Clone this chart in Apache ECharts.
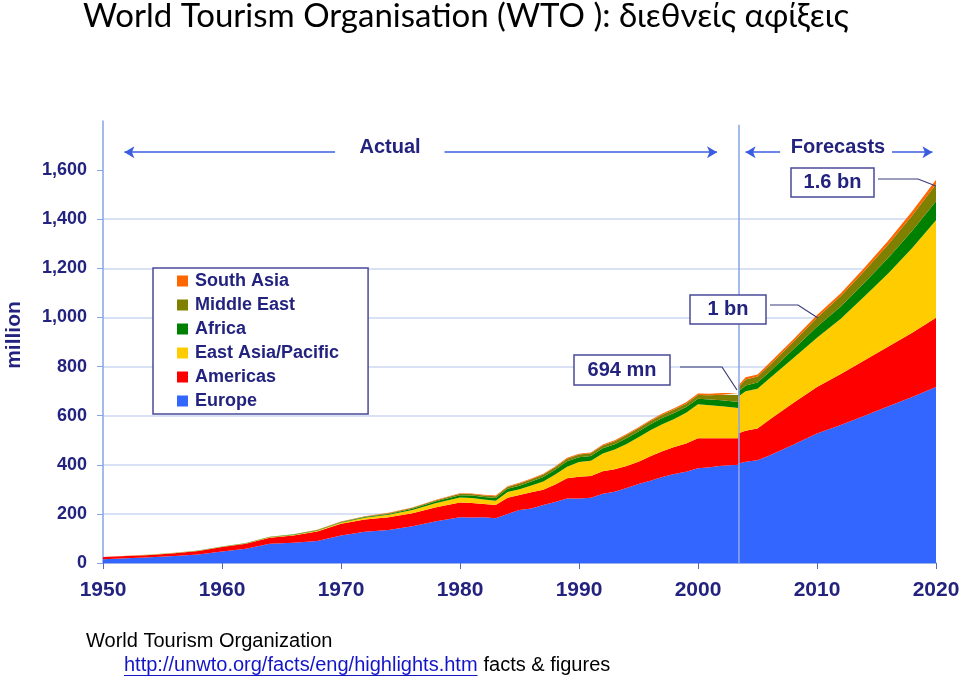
<!DOCTYPE html>
<html>
<head>
<meta charset="utf-8">
<script src="https://cdn.jsdelivr.net/npm/echarts@6/dist/echarts.min.js"></script>
<style>
  html, body { margin: 0; padding: 0; background: #fff; }
  #chart { width: 960px; height: 683px; }
</style>
</head>
<body>
<div id="chart"></div>
<script>
// actual arrivals (million)
const yearsActual = [1950,1952,1954,1956,1958,1960,1962,1964,1966,1968,1970,1972,1974,1976,1978,1980,1981,1982,1983,1984,1985,1986,1987,1988,1989,1990,1991,1992,1993,1994,1995,1996,1997,1998,1999,2000,2001,2002,2003.4];
const europeActual = [15,19,23,29,35,47,58,78,82,90,112,127,134,150,170,186,185,186,182,200,216,222,236,248,263,263,266,282,290,305,322,335,350,362,372,386,390,396,400];
const americasActual = [9,9,10,11,14,18,20,25,30,38,48,50,52,53,57,60,59,54,54,66,61,66,62,72,82,88,88,92,92,90,90,100,105,110,115,122,118,112,108];
const eapActual = [0.2,0.3,0.4,0.5,0.7,1,1.2,1.6,2.2,3,4,7,10,13,17,21,21,19,18,23,23,28,34,40,47,60,62,72,80,90,100,106,110,114,125,138,134,130,123];
const africaActual = [0.4,0.5,0.5,0.6,0.7,0.8,1,1.2,1.5,2,2.4,3,4,5,7,9,10,10,11,13,15,16,18,20,22,20,20,21,22,23,24,24,25,25,23,23,24,25,25];
const middleEastActual = [0.2,0.2,0.3,0.3,0.4,0.6,0.8,1,1.3,1.6,2,2.5,3,4,5,6,6,6,7,8,9,9,10,10,11,11,11,12,12,13,13,13,14,14,14,15,17,22,28];
const southAsiaActual = [0.1,0.1,0.1,0.1,0.1,0.2,0.2,0.3,0.3,0.4,0.8,1,1.2,1.5,2,2.3,2.4,2.5,2.5,2.6,2.7,2.8,3,3,3.2,3.4,3.3,3.6,3.8,4,4.2,4.5,4.8,5,5.5,6,6,7,8];

// forecasts
const yearsForecast = [2003.4,2004,2005,2006,2008,2010,2012,2014,2016,2018,2020];
const europeForecast = [405,412,418,438,482,527,562,600,638,676,717];
const americasForecast = [123,127,130,145,170,190,208,226,244,262,282];
const eapForecast = [150,160,162,168,182,200,225,260,298,345,397];
const africaForecast = [20,24,25,27,35,45,50,56,63,70,77];
const middleEastForecast = [18,24,24,26,31,37,42,48,55,62,69];
const southAsiaForecast = [8,9,9,10,10,11,12,13,15,17,19];

const legendNames = ['South Asia','Middle East','Africa','East Asia/Pacific','Americas','Europe'];
const yTicks = [0,200,400,600,800,1000,1200,1400,1600];
const splitYear = 2003.4;

const navy = '#23237f';
const axisBlue = '#86a2e8';
const labelFont = '"Liberation Sans", Arial';

const regions = [
  { name: 'Europe', color: '#3366ff', actual: europeActual, forecast: europeForecast },
  { name: 'Americas', color: '#ff0000', actual: americasActual, forecast: americasForecast },
  { name: 'East Asia/Pacific', color: '#ffcc00', actual: eapActual, forecast: eapForecast },
  { name: 'Africa', color: '#008000', actual: africaActual, forecast: africaForecast },
  { name: 'Middle East', color: '#808000', actual: middleEastActual, forecast: middleEastForecast },
  { name: 'South Asia', color: '#ff6600', actual: southAsiaActual, forecast: southAsiaForecast }
];

// value first, year second: the stack then sums the value dimension
function pairs(xs, ys) {
  return xs.map((x, i) => [ys[i], x]);
}

const series = [];
['actual', 'forecast'].forEach(part => {
  regions.forEach(r => {
    series.push({
      type: 'line',
      name: r.name,
      stack: part,
      data: pairs(part === 'actual' ? yearsActual : yearsForecast, r[part]),
      encode: { x: 1, y: 0 },
      showSymbol: false,
      symbol: 'none',
      color: r.color,
      lineStyle: { width: 0 },
      areaStyle: { color: r.color, opacity: 1 },
      emphasis: { disabled: true },
      silent: true
    });
  });
});

// arrows above the plot and the actual/forecast divider
const arrowY = 1673;
series.push({
  type: 'line',
  data: [],
  silent: true,
  z: 5,
  markLine: {
    silent: true,
    animation: false,
    label: { show: false },
    lineStyle: { color: '#3a5ce0', width: 1.5, type: 'solid' },
    symbolSize: [9, 10],
    data: [
      [{ coord: [1951.8, arrowY], symbol: 'arrow' }, { coord: [1969.5, arrowY], symbol: 'none' }],
      [{ coord: [1978.7, arrowY], symbol: 'none' }, { coord: [2001.6, arrowY], symbol: 'arrow' }],
      [{ coord: [2004.0, arrowY], symbol: 'arrow' }, { coord: [2006.9, arrowY], symbol: 'none' }],
      [{ coord: [2016.3, arrowY], symbol: 'none' }, { coord: [2019.7, arrowY], symbol: 'arrow' }],
      [{ coord: [splitYear, 0], symbol: 'none', lineStyle: { color: axisBlue, width: 1.5 } }, { coord: [splitYear, 1785], symbol: 'none' }]
    ]
  }
});

const chart = echarts.init(document.getElementById('chart'));

function box(x, y, w, h, label) {
  return [
    { type: 'rect', z: 100, shape: { x: x, y: y, width: w, height: h }, style: { fill: '#fff', stroke: '#4a4a9a', lineWidth: 1.5 } },
    { type: 'text', z: 101, x: x + w / 2, y: y + h / 2, style: { text: label, fill: navy, font: 'bold 20px ' + labelFont, align: 'center', verticalAlign: 'middle' } }
  ];
}

function leader(points) {
  return { type: 'polyline', z: 100, shape: { points: points }, style: { stroke: '#3b3b7a', lineWidth: 1.2, fill: null } };
}

const linkText = 'http://unwto.org/facts/eng/highlights.htm';
const ctx = document.createElement('canvas').getContext('2d');
ctx.font = '20px ' + labelFont;
const linkWidth = ctx.measureText(linkText).width;

chart.setOption({
  animation: false,
  backgroundColor: '#fff',
  textStyle: { fontFamily: labelFont },
  grid: { left: 103, right: 24, top: 121, bottom: 120, containLabel: false, outerBoundsMode: 'none' },
  legend: {
    data: legendNames,
    orient: 'vertical',
    left: 153,
    top: 268,
    icon: 'rect',
    itemWidth: 11,
    itemHeight: 11,
    itemGap: 6,
    padding: [4, 29, 4, 24],
    backgroundColor: '#fff',
    borderColor: '#4a4a9a',
    borderWidth: 1.5,
    borderRadius: 0,
    selectedMode: false,
    textStyle: { color: navy, fontSize: 18, fontWeight: 'bold', padding: [0, 0, 0, 2] }
  },
  xAxis: {
    type: 'value',
    min: 1950,
    max: 2020,
    interval: 10,
    axisLine: { lineStyle: { color: axisBlue, width: 1.5 } },
    axisTick: { length: 6, lineStyle: { color: '#5a6ab0' } },
    axisLabel: { color: navy, fontSize: 21, fontWeight: 'bold', margin: 17, formatter: v => String(v) },
    splitLine: { show: false }
  },
  yAxis: {
    type: 'value',
    min: 0,
    max: 1800,
    interval: 200,
    name: 'million',
    nameLocation: 'middle',
    nameGap: 78,
    nameTextStyle: { color: navy, fontSize: 21, fontWeight: 'bold', padding: [0, 0, 0, 14] },
    axisLine: { show: true, lineStyle: { color: axisBlue, width: 1.5 } },
    axisTick: { show: true, length: 6, lineStyle: { color: axisBlue }, customValues: yTicks },
    axisLabel: {
      color: navy, fontSize: 18, fontWeight: 'bold', margin: 16,
      customValues: yTicks,
      formatter: v => (v > 1600 ? '' : v.toLocaleString('en-US'))
    },
    splitLine: { show: true, showMaxLine: false, lineStyle: { color: '#cdd8f2', width: 1.5 } }
  },
  series: series,
  graphic: [
    { type: 'text', left: 83, top: 0, style: { text: 'World Tourism Organisation (WTO ): διεθνείς αφίξεις', fill: '#000', font: '33px Lato, "Noto Sans", sans-serif' } },
    { type: 'text', x: 390, y: 147, style: { text: 'Actual', fill: navy, font: 'bold 20px ' + labelFont, align: 'center', verticalAlign: 'middle' } },
    { type: 'text', x: 838, y: 147, style: { text: 'Forecasts', fill: navy, font: 'bold 20px ' + labelFont, align: 'center', verticalAlign: 'middle' } }
  ].concat(
    box(791, 168, 83, 29, '1.6 bn'),
    box(690, 295, 76, 29, '1 bn'),
    box(574, 355, 96, 30, '694 mn'),
    [
      leader([[878, 179], [918, 179], [936, 186]]),
      leader([[770, 305], [798, 305], [818, 318]]),
      leader([[680, 367], [722, 367], [737, 390]]),
      { type: 'text', x: 86, y: 641, style: { text: 'World Tourism Organization', fill: '#000', font: '20px ' + labelFont, verticalAlign: 'middle' } },
      { type: 'text', x: 124, y: 665, style: { text: linkText, fill: '#1515c8', font: '20px ' + labelFont, verticalAlign: 'middle' } },
      { type: 'line', shape: { x1: 124, y1: 675.5, x2: 124 + linkWidth, y2: 675.5 }, style: { stroke: '#1515c8', lineWidth: 1.2 } },
      { type: 'text', x: 124 + linkWidth + 6, y: 665, style: { text: 'facts & figures', fill: '#000', font: '20px ' + labelFont, verticalAlign: 'middle' } }
    ]
  )
});
</script>
</body>
</html>
